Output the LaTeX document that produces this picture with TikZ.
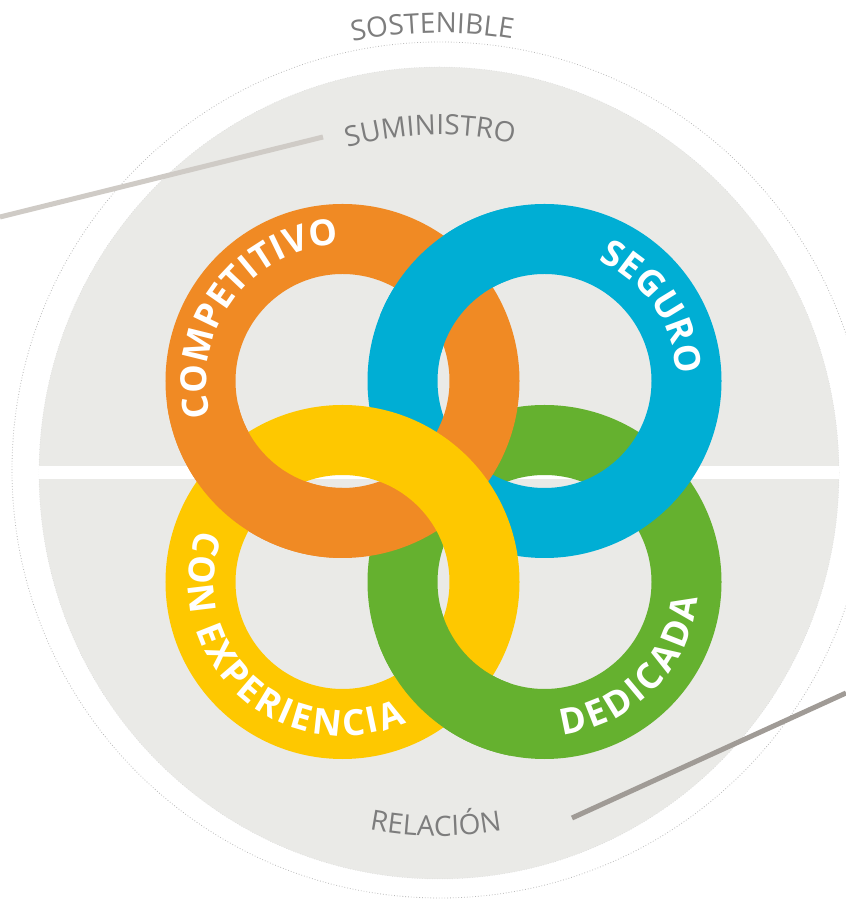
\documentclass[tikz,border=0pt]{standalone}
\usepackage{fontspec}
\setmainfont{Open Sans}
\usetikzlibrary{calc,decorations.text}
\definecolor{ringorange}{RGB}{240,138,36}
\definecolor{ringblue}{RGB}{0,174,212}
\definecolor{ringyellow}{RGB}{254,200,0}
\definecolor{ringgreen}{RGB}{101,177,47}
\definecolor{discgray}{RGB}{234,234,231}
\definecolor{labelgray}{RGB}{125,125,125}
\definecolor{leaderlight}{RGB}{207,203,198}
\definecolor{leaderdark}{RGB}{160,155,150}
\newcommand\ringfont{\fontsize{36}{36}\selectfont\bfseries}
\newcommand\rimfont{\fontsize{28}{28}\selectfont}
\tikzset{
  ring/.style={draw=#1, line width=70pt},
  ringlabel/.style={decorate, decoration={text along path, text={|\ringfont|#1}, text color=white, text align={fit to path}}},
  rimlabel/.style={decorate, decoration={text along path, text={|\rimfont|#1}, text color=labelgray, text align=center}},
  leader/.style={draw=#1, line width=5pt},
}
\begin{document}
\begin{tikzpicture}[x=1pt,y=1pt]
\useasboundingbox (0,0) rectangle (846,905);
\coordinate (disc) at (439,432);
\coordinate (rim) at (440,435);
\coordinate (O) at (342.5,524);
\coordinate (B) at (544.5,524);
\coordinate (Y) at (342.5,323);
\coordinate (G) at (544.5,323);
% background
\draw[gray!55, dotted, line width=0.8pt] (rim) circle[radius=428];
\fill[discgray] (disc) ellipse[x radius=400, y radius=406];
\draw[gray!35, dotted, line width=0.5pt] (disc) ellipse[x radius=400, y radius=406];
\begin{scope}
\clip (disc) ellipse[x radius=400, y radius=406];
\fill[white] (0,426) rectangle (846,439);
\end{scope}
% rings
\draw[ring=ringgreen] (G) circle[radius=142];
\draw[ring=ringblue] (B) circle[radius=142];
\draw[ring=ringorange] (O) circle[radius=142];
\draw[ring=ringyellow] (Y) circle[radius=142];
% crossings
\begin{scope}
\clip (140,340) rectangle (342,500);
\draw[ring=ringorange] (O) circle[radius=142];
\end{scope}
\begin{scope}
\clip (380,552) rectangle (510,720);
\draw[ring=ringblue] (B) circle[radius=142];
\end{scope}
\begin{scope}
\clip (378,140) rectangle (510,296);
\draw[ring=ringgreen] (G) circle[radius=142];
\end{scope}
% labels
\path[ringlabel=COMPETITIVO] ($(O)+(195:136)$) arc[start angle=195, end angle=92, radius=136];
\path[ringlabel=SEGURO] ($(B)+(66:132)$) arc[start angle=66, end angle=7.5, radius=132];
\path[ringlabel={CON EXPERIENCIA}] ($(Y)+(160:154)$) arc[start angle=160, end angle=294.5, radius=154];
\path[ringlabel=DEDICADA] ($(G)+(276.7:154)$) arc[start angle=276.7, end angle=354, radius=154];
\path[rimlabel=SOSTENIBLE] ($(rim)+(115:437)$) arc[start angle=115, end angle=67, radius=437];
\path[rimlabel=SUMINISTRO] ($(disc)+(120:338)$) arc[start angle=120, end angle=63, radius=338];
\path[rimlabel=RELACIÓN] ($(disc)+(245:363)$) arc[start angle=245, end angle=294, radius=363];
% leaders
\coordinate (supply end) at (0,688);
\coordinate (supply tip) at (323,768);
\coordinate (relation tip) at (572,87);
\coordinate (relation end) at (846,212);
\draw[leader=leaderlight] (supply end) -- (supply tip);
\draw[leader=leaderdark] (relation tip) -- (relation end);
\end{tikzpicture}
\end{document}
